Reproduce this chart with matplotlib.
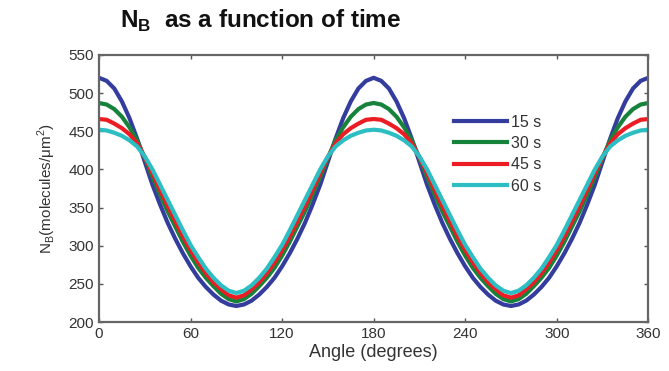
import numpy as np
import matplotlib
matplotlib.use("Agg")
import matplotlib.pyplot as plt

# N_B values at 0..90 deg, 5 deg steps; curves repeat
# with a 180 deg period and are mirror-symmetric about 90 deg
angle_quarter = np.arange(0, 91, 5)
nb_15s = [520, 516, 506, 489, 467, 440, 410, 380, 354, 330, 309, 290, 273, 258, 246, 236, 228, 223, 221]
nb_30s = [487, 485, 479, 469, 455, 438, 415, 390, 367, 345, 325, 305, 287, 271, 258, 247, 237, 230, 227]
nb_45s = [466, 465, 460, 454, 446, 434, 416, 395, 373, 352, 332, 312, 294, 278, 264, 252, 243, 235, 232]
nb_60s = [452, 451, 448, 444, 438, 430, 417, 400, 380, 360, 340, 320, 301, 285, 270, 258, 248, 241, 238]

labels = ["15 s", "30 s", "45 s", "60 s"]
colors = ["#343c9e", "#16823a", "#ec1c24", "#2cbec2"]


def full_period(q):
    q = np.asarray(q, dtype=float)
    half = np.concatenate([q, q[-2::-1]])
    return np.concatenate([half, half[1:]])


angles = np.arange(0, 361, 5)

plt.rcParams["font.family"] = ["Liberation Sans", "DejaVu Sans"]
fig = plt.figure(figsize=(6.69, 3.71), dpi=100)
ax = fig.add_axes([0.148, 0.132, 0.821, 0.720])

for q, lab, c in zip([nb_15s, nb_30s, nb_45s, nb_60s], labels, colors):
    ax.plot(angles, full_period(q), color=c, lw=3.0, label=lab)

ax.set_xlim(0, 360)
ax.set_ylim(200, 550)
ax.set_xticks(np.arange(0, 361, 60))
ax.set_yticks(np.arange(200, 551, 50))
ax.tick_params(direction="in", top=True, right=True, length=3, width=1,
               colors="#555555", labelcolor="#333333", labelsize=11)
for s in ax.spines.values():
    s.set_color("#666666")
    s.set_linewidth(1.6)

ax.set_xlabel("Angle (degrees)", fontsize=13, color="#333333", labelpad=2)
ax.set_ylabel("N$_\\mathregular{B}$(molecules/\u03bcm$^\\mathregular{2}$)",
              fontsize=11, color="#333333", labelpad=8)

ax.legend(loc="upper left", bbox_to_anchor=(0.62, 0.83), frameon=False,
          fontsize=11.5, handlelength=3.3, handletextpad=0.3, labelspacing=0.4,
          labelcolor="#333333")

fig.text(0.18, 0.925, "N$_\\mathregular{B}$  as a function of time",
         fontsize=17.5, fontweight="bold", color="#111111")

fig.savefig("out.png", dpi=100)
